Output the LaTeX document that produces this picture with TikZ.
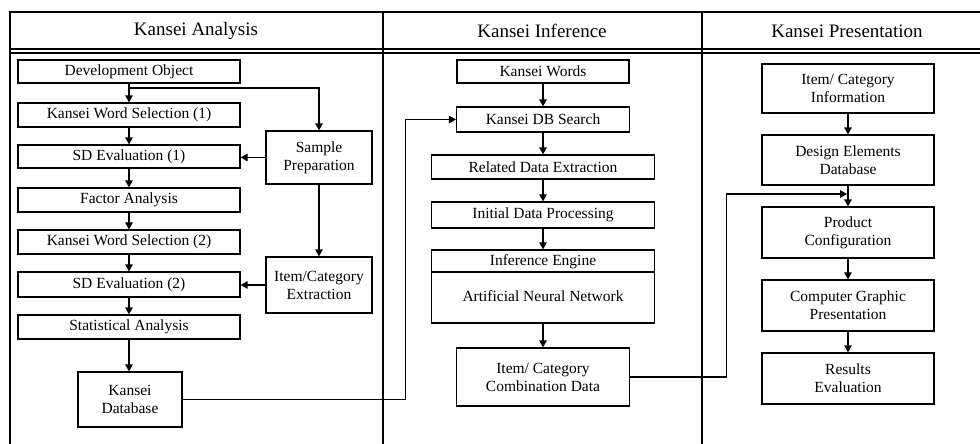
\documentclass[tikz,border=0pt]{standalone}
\usepackage{fontspec}
\setmainfont{Liberation Serif}
\usetikzlibrary{arrows.meta,calc}
\begin{document}
\begin{tikzpicture}[x=1pt,y=-1pt,
  box/.style={draw,line width=1.2pt,inner sep=1pt,align=center,font=\fontsize{15.5}{18}\selectfont},
  lbl/.style={inner sep=0pt,align=center,font=\fontsize{15.5}{18}\selectfont},
  head/.style={inner sep=0pt,font=\fontsize{19}{22}\selectfont},
  frame/.style={line width=2.4pt},
  arr/.style={line width=1.2pt,-{Triangle[length=7pt,width=7.5pt]}},
  ln/.style={line width=1.2pt}]
\useasboundingbox (0,0) rectangle (980,444);
\fill[white] (0,0) rectangle (980,444);
% frame
\draw[frame] (10,444) -- (10,12) -- (980,12);
\draw[frame] (383,12) -- (383,444);
\draw[frame] (702,12) -- (702,444);
\draw[line width=1.2pt] (10,49) -- (980,49);
\draw[line width=1.2pt] (10,53) -- (980,53);
\node[head] (h1) at (196,31) {Kansei Analysis};
\node[head] (h2) at (542,31) {Kansei Inference};
\node[head] (h3) at (847,31) {Kansei Presentation};
% left column
\node[box,minimum width=222pt,minimum height=23pt] (dev) at (129,71.5) {Development Object};
\node[box,minimum width=222pt,minimum height=24pt] (kws1) at (129,115) {Kansei Word Selection (1)};
\node[box,minimum width=222pt,minimum height=23pt] (sd1) at (129,156.5) {SD Evaluation (1)};
\node[box,minimum width=222pt,minimum height=24pt] (fa) at (129,200) {Factor Analysis};
\node[box,minimum width=222pt,minimum height=24pt] (kws2) at (129,242) {Kansei Word Selection (2)};
\node[box,minimum width=222pt,minimum height=25pt] (sd2) at (129,284.5) {SD Evaluation (2)};
\node[box,minimum width=222pt,minimum height=24pt] (sa) at (129,327) {Statistical Analysis};
\node[box,minimum width=104pt,minimum height=55pt] (kdb) at (130,399.5) {Kansei\\Database};
\node[box,minimum width=106pt,minimum height=53pt] (sp) at (319,157.5) {Sample\\Preparation};
\node[box,minimum width=106pt,minimum height=56pt] (ice) at (319,285) {Item/Category\\Extraction};
\coordinate (br) at (129,88);
\draw[arr] (dev.south) -- (kws1.north);
\draw[arr] (br) -| (sp.north);
\draw[arr] (kws1.south) -- (sd1.north);
\draw[arr] (sd1.south) -- (fa.north);
\draw[arr] (fa.south) -- (kws2.north);
\draw[arr] (kws2.south) -- (sd2.north);
\draw[arr] (sd2.south) -- (sa.north);
\draw[arr] (sa.south) -- (sa.south |- kdb.north);
\draw[arr] (sp.west) -- (sp.west -| sd1.east);
\draw[arr] (sp.south) -- (ice.north);
\draw[arr] (ice.west) -- (ice.west -| sd2.east);
% middle column
\node[box,minimum width=172pt,minimum height=23pt] (kw) at (543,71.5) {Kansei Words};
\node[box,minimum width=173pt,minimum height=25pt] (kdbs) at (543,119.5) {Kansei DB Search};
\node[box,minimum width=223pt,minimum height=24pt] (rde) at (543,167) {Related Data Extraction};
\node[box,minimum width=223pt,minimum height=26pt] (idp) at (543,215) {Initial Data Processing};
\node[box,minimum width=223pt,minimum height=73pt] (ie) at (543,286.5) {};
\draw[ln] (ie.west |- 0,272) -- (ie.east |- 0,272);
\node[lbl] (ieh) at (543,261.5) {Inference Engine};
\node[lbl] (ann) at (543,296) {Artificial Neural Network};
\node[box,minimum width=173pt,minimum height=58pt] (icd) at (543,377) {Item/ Category\\Combination Data};
\draw[arr] (kw.south) -- (kdbs.north);
\draw[arr] (kdbs.south) -- (rde.north);
\draw[arr] (rde.south) -- (idp.north);
\draw[arr] (idp.south) -- (ie.north);
\draw[arr] (ie.south) -- (icd.north);
\draw[arr] (kdb.east) -- ++(223,0) |- (kdbs.west);
% right column
\node[box,minimum width=172pt,minimum height=49pt] (ici) at (848,88.5) {Item/ Category\\Information};
\node[box,minimum width=172pt,minimum height=50pt] (ded) at (848,160) {Design Elements\\Database};
\node[box,minimum width=172pt,minimum height=51pt] (pc) at (848,232.5) {Product\\Configuration};
\node[box,minimum width=172pt,minimum height=51pt] (cgp) at (848,305.5) {Computer Graphic\\Presentation};
\node[box,minimum width=172pt,minimum height=51pt] (re) at (848,378.5) {Results\\Evaluation};
\coordinate (mg) at (847,194);
\draw[arr] (ici.south) -- (ded.north);
\draw[arr] (ded.south) -- (pc.north);
\draw[arr] (pc.south) -- (cgp.north);
\draw[arr] (cgp.south) -- (re.north);
\draw[arr] (icd.east) -- ++(96,0) |- (mg);
\end{tikzpicture}
\end{document}
